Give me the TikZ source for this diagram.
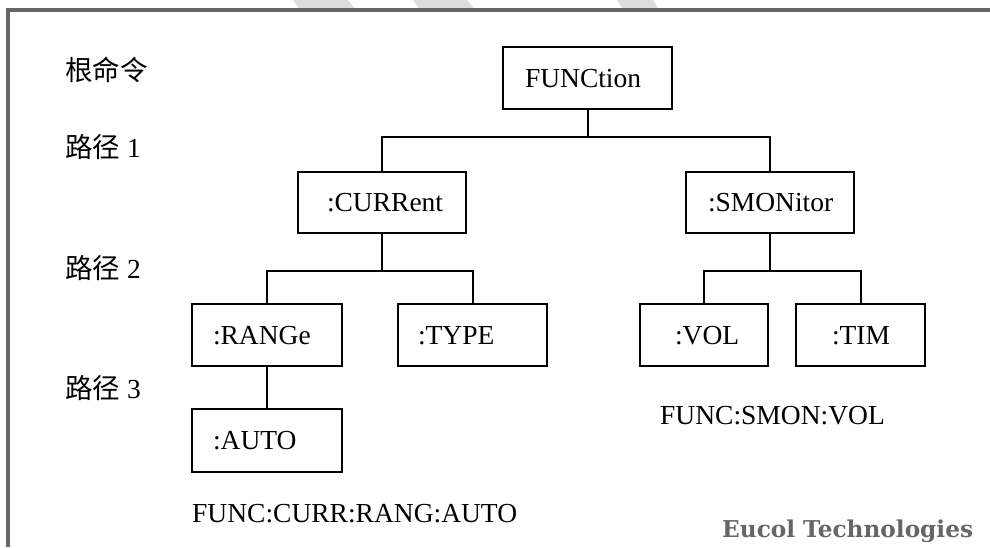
\documentclass[tikz,border=0pt]{standalone}
\usepackage{fontspec}
\setmainfont{Liberation Serif}
\newfontfamily\cjk{Noto Sans CJK SC}
\newfontfamily\brandfont{DejaVu Serif}
\usetikzlibrary{calc}
\definecolor{framegray}{HTML}{666666}
\definecolor{stripegray}{HTML}{DDDDDD}
\begin{document}
\begin{tikzpicture}[x=1pt,y=-1pt,
  every node/.style={font=\fontsize{27.5}{33}\selectfont},
  box/.style 2 args={draw, line width=2pt, inner xsep=0pt, inner ysep=0pt,
    text width=#1pt, align=left, minimum height=62pt,
    text height=18.2pt, text depth=0pt,
    execute at begin node={\hspace*{#2pt}}},
  conn/.style={line width=2pt},
  lvl/.style={anchor=base west, inner sep=0pt},
  cmd/.style={anchor=base west, inner sep=0pt}]
\useasboundingbox (0,0) rectangle (990,547);
% watermark stripes
\fill[stripegray] (293,0) -- (348,0) -- (356,10) -- (300,10) -- cycle;
\fill[stripegray] (413,0) -- (467,0) -- (475,10) -- (420,10) -- cycle;
\fill[stripegray] (617,0) -- (653,0) -- (659,10) -- (624,10) -- cycle;
% frame
\draw[framegray, line width=4pt] (990,9.5) -- (8,9.5) -- (8,547);
% level labels
\node[lvl] (l0) at (65,80) {\cjk 根命令};
\node[lvl] (l1) at (65,157.5) {{\cjk 路径} 1};
\node[lvl] (l2) at (65,278.5) {{\cjk 路径} 2};
\node[lvl] (l3) at (65,398) {{\cjk 路径} 3};
% boxes
\node[box={169}{22}] (fun) at (587.5,78) {FUNCtion};
\node[box={168}{29}, minimum height=61pt] (cur) at (382,202.5) {:CURRent};
\node[box={168}{22}, minimum height=61pt] (smo) at (770,202.5) {:SMONitor};
\node[box={150}{21}] (ran) at (267,335) {:RANGe};
\node[box={149}{20}] (typ) at (472.5,335) {:TYPE};
\node[box={150}{21}, minimum height=63pt] (aut) at (267,440.5) {:AUTO};
\node[box={128}{35}] (vol) at (704,335) {:VOL};
\node[box={129}{36}] (tim) at (860.5,335) {:TIM};
% connectors
\coordinate (j1) at ($(fun.south)+(0,27)$);
\draw[conn] (fun.south) -- (j1);
\draw[conn] (cur.north) |- (j1) -| (smo.north);
\coordinate (j2) at ($(cur.south)+(0,37)$);
\draw[conn] (cur.south) -- (j2);
\draw[conn] (ran.north) |- (j2) -| (typ.north);
\coordinate (j3) at ($(smo.south)+(0,37)$);
\draw[conn] (smo.south) -- (j3);
\draw[conn] (vol.north) |- (j3) -| (tim.north);
\draw[conn] (ran.south) -- (aut.north);
% example commands
\node[cmd] (ex1) at (192,522) {FUNC:CURR:RANG:AUTO};
\node[cmd] (ex2) at (660,424) {FUNC:SMON:VOL};
\node[cmd, text=framegray, font=\brandfont\bfseries\fontsize{23.2}{28}\selectfont] (brand) at (722,537) {Eucol Technologies};
\end{tikzpicture}
\end{document}
